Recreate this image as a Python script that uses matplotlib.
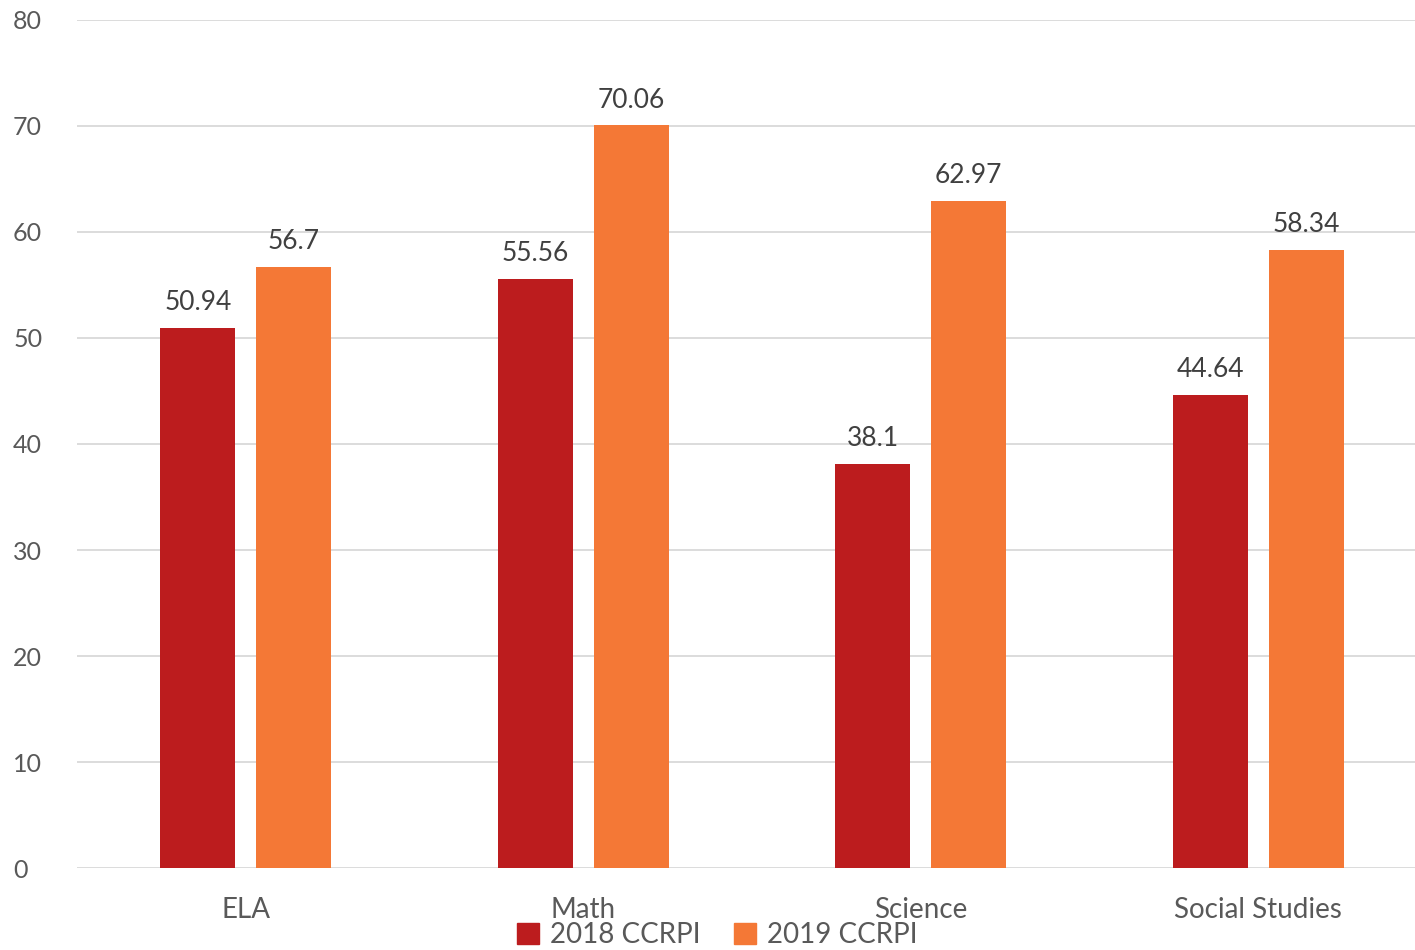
import numpy as np
import matplotlib.pyplot as plt
from matplotlib.patches import Patch

# data
categories = ["ELA", "Math", "Science", "Social Studies"]
ccrpi_2018 = [50.94, 55.56, 38.1, 44.64]
ccrpi_2019 = [56.7, 70.06, 62.97, 58.34]
labels_2018 = ["50.94", "55.56", "38.1", "44.64"]
labels_2019 = ["56.7", "70.06", "62.97", "58.34"]
yticks = [0, 10, 20, 30, 40, 50, 60, 70, 80]

RED = "#BC1C1E"
ORANGE = "#F47836"
TEXT = "#595959"
GRID = "#D9D9D9"

plt.rcParams['font.family'] = ['Lato', 'DejaVu Sans']

fig = plt.figure(figsize=(14.15, 9.5), dpi=100)
ax = fig.add_axes([77 / 1415, 82 / 950, 1350 / 1415, 848 / 950])

x = np.arange(len(categories))
width = 0.223
off = 0.142

b1 = ax.bar(x - off, ccrpi_2018, width, color=RED, zorder=3)
b2 = ax.bar(x + off, ccrpi_2019, width, color=ORANGE, zorder=3)

for bar, lab in zip(b1, labels_2018):
    ax.text(bar.get_x() + bar.get_width() / 2, bar.get_height() + 1.2, lab,
            ha="center", va="bottom", fontsize=19, color="#404040")
for bar, lab in zip(b2, labels_2019):
    ax.text(bar.get_x() + bar.get_width() / 2, bar.get_height() + 1.2, lab,
            ha="center", va="bottom", fontsize=19, color="#404040")

ax.set_xlim(-0.5, 3.5)
ax.set_ylim(0, 80)
ax.set_yticks(yticks)
ax.set_yticklabels([str(t) for t in yticks], fontsize=18, color=TEXT)
ax.set_xticks(x)
ax.set_xticklabels(categories, fontsize=20, color=TEXT)
ax.tick_params(axis="both", length=0)
ax.tick_params(axis="y", pad=46)
ax.tick_params(axis="x", pad=21)
for lbl in ax.get_yticklabels():
    lbl.set_horizontalalignment("left")

ax.grid(axis="y", color=GRID, linewidth=1.3, zorder=0)
for s in ax.spines.values():
    s.set_visible(False)

handles = [Patch(color=RED, label="2018 CCRPI"), Patch(color=ORANGE, label="2019 CCRPI")]
fig.legend(handles=handles, loc="lower center", bbox_to_anchor=(0.507, -0.024), ncol=2,
           frameon=False, fontsize=20, labelcolor=TEXT, handlelength=0.8,
           handleheight=0.8, handletextpad=0.4, columnspacing=1.2)

fig.savefig("out.png", dpi=100)
